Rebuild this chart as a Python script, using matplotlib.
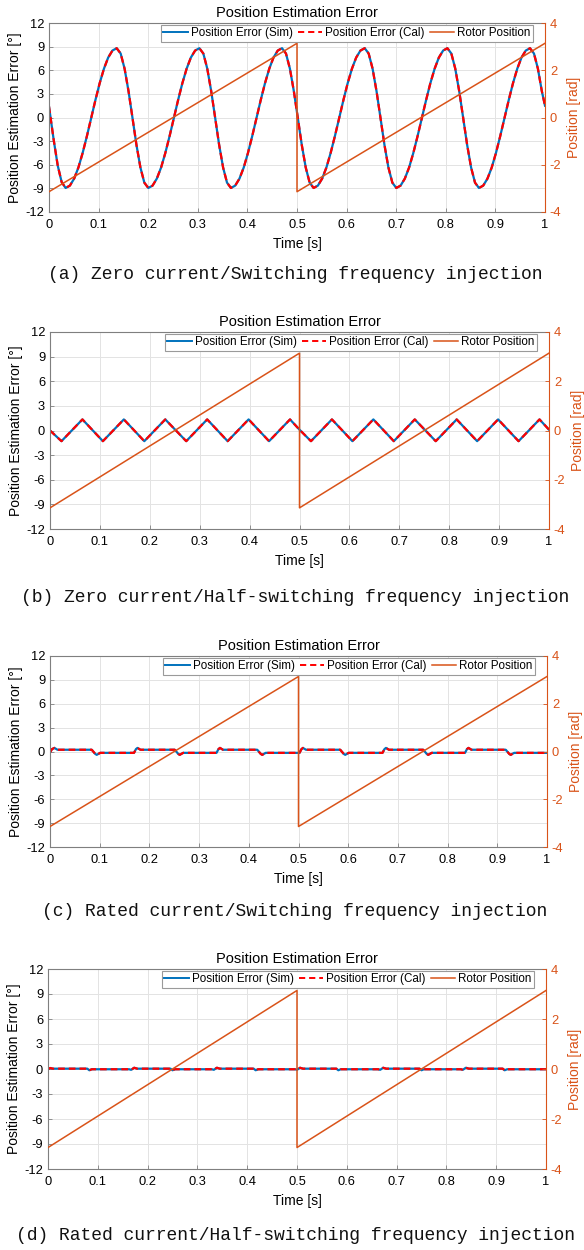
import matplotlib
matplotlib.use('Agg')
import matplotlib.pyplot as plt
from matplotlib.lines import Line2D

plt.rcParams['font.family'] = ['Liberation Sans', 'DejaVu Sans']
plt.rcParams['axes.unicode_minus'] = False

# ---------------- data ----------------
time_ticks = [0, 0.1, 0.2, 0.3, 0.4, 0.5, 0.6, 0.7, 0.8, 0.9, 1.0]
time_tick_labels = ['0', '0.1', '0.2', '0.3', '0.4', '0.5', '0.6', '0.7', '0.8', '0.9', '1']
err_ticks = [-12, -9, -6, -3, 0, 3, 6, 9, 12]
pos_ticks = [-4, -2, 0, 2, 4]

legend_labels = ['Position Error (Sim)', 'Position Error (Cal)', 'Rotor Position']
captions = ['(a) Zero current/Switching frequency injection',
            '(b) Zero current/Half-switching frequency injection',
            '(c) Rated current/Switching frequency injection',
            '(d) Rated current/Half-switching frequency injection']

rotor_t = [0.0, 0.5, 0.5, 1.0]
rotor_pos = [-3.1416, 3.1416, -3.1416, 3.1416]

# (a) zero current / switching frequency injection
t_a = [0.0, 0.0096, 0.0176, 0.0255,
       0.0335, 0.0421, 0.0507, 0.0593, 0.0678, 0.0764, 0.0850, 0.0936, 0.1022, 0.1108,
       0.1193, 0.1279, 0.1365, 0.1445, 0.1524, 0.1604, 0.1684, 0.1763, 0.1843, 0.1922,
       0.2002, 0.2088, 0.2174, 0.2260, 0.2345, 0.2431, 0.2517, 0.2603, 0.2689, 0.2775,
       0.2860, 0.2946, 0.3032, 0.3112, 0.3191, 0.3271, 0.3351, 0.3430, 0.3510, 0.3589,
       0.3668, 0.3754, 0.3840, 0.3926, 0.4011, 0.4097, 0.4183, 0.4269, 0.4355, 0.4441,
       0.4526, 0.4612, 0.4698, 0.4778, 0.4857, 0.4937, 0.5017, 0.5096, 0.5176, 0.5255,
       0.5335, 0.5421, 0.5507, 0.5593, 0.5678, 0.5764, 0.5850, 0.5936, 0.6022, 0.6108,
       0.6193, 0.6279, 0.6365, 0.6445, 0.6524, 0.6604, 0.6684, 0.6763, 0.6843, 0.6922,
       0.7002, 0.7088, 0.7174, 0.7260, 0.7345, 0.7431, 0.7517, 0.7603, 0.7689, 0.7775,
       0.7860, 0.7946, 0.8032, 0.8112, 0.8191, 0.8271, 0.8351, 0.8430, 0.8510, 0.8589,
       0.8668, 0.8754, 0.8840, 0.8926, 0.9011, 0.9097, 0.9183, 0.9269, 0.9355, 0.9441,
       0.9526, 0.9612, 0.9698, 0.9778, 0.9857, 0.9937, 1.0]
err_a_sim = [1.40, -2.90, -6.10, -8.20,
             -8.95, -8.65, -7.76, -6.35, -4.51, -2.37, -0.08, 2.22, 4.36, 6.20,
             7.61, 8.50, 8.80, 8.12, 6.20, 3.32, -0.08, -3.47, -6.35, -8.27,
             -8.95, -8.65, -7.76, -6.35, -4.51, -2.37, -0.08, 2.22, 4.36, 6.20,
             7.61, 8.50, 8.80, 8.12, 6.20, 3.32, -0.08, -3.47, -6.35, -8.27,
             -8.95, -8.65, -7.76, -6.35, -4.51, -2.37, -0.08, 2.22, 4.36, 6.20,
             7.61, 8.50, 8.80, 8.12, 6.20, 3.32, -0.08, -3.47, -6.35, -8.27,
             -8.95, -8.65, -7.76, -6.35, -4.51, -2.37, -0.08, 2.22, 4.36, 6.20,
             7.61, 8.50, 8.80, 8.12, 6.20, 3.32, -0.08, -3.47, -6.35, -8.27,
             -8.95, -8.65, -7.76, -6.35, -4.51, -2.37, -0.08, 2.22, 4.36, 6.20,
             7.61, 8.50, 8.80, 8.12, 6.20, 3.32, -0.08, -3.47, -6.35, -8.27,
             -8.95, -8.65, -7.76, -6.35, -4.51, -2.37, -0.08, 2.22, 4.36, 6.20,
             7.61, 8.50, 8.80, 8.12, 6.20, 3.32, 1.50]
err_a_cal = err_a_sim

# (b) zero current / half-switching frequency injection
t_b = [0.0, 0.023, 0.065, 0.106, 0.148, 0.189, 0.231, 0.273, 0.315, 0.356, 0.398, 0.439, 0.481,
       0.5, 0.523, 0.565, 0.606, 0.648, 0.689, 0.731, 0.773, 0.815, 0.856, 0.898, 0.939, 0.981, 1.0]
err_b_sim = [0.0, -1.30, 1.35, -1.30, 1.35, -1.30, 1.35, -1.30, 1.35, -1.30, 1.35, -1.30, 1.35,
             0.10, -1.30, 1.35, -1.30, 1.35, -1.30, 1.35, -1.30, 1.35, -1.30, 1.35, -1.30, 1.35, 0.10]
err_b_cal = err_b_sim

# (c) rated current / switching frequency injection
t_c = [0.000, 0.004, 0.009, 0.015, 0.084, 0.091, 0.094, 0.101,
       0.169, 0.173, 0.176, 0.182, 0.251, 0.258, 0.261, 0.268,
       0.335, 0.339, 0.342, 0.348, 0.417, 0.424, 0.427, 0.434,
       0.502, 0.506, 0.509, 0.515, 0.584, 0.591, 0.594, 0.601,
       0.669, 0.673, 0.676, 0.682, 0.751, 0.758, 0.761, 0.768,
       0.835, 0.839, 0.842, 0.848, 0.917, 0.924, 0.927, 0.934, 1.000]
err_c_sim = [-0.12, 0.30, 0.45, 0.22, 0.22, -0.30, -0.42, -0.17,
             -0.17, 0.30, 0.45, 0.22, 0.22, -0.30, -0.42, -0.17,
             -0.17, 0.30, 0.45, 0.22, 0.22, -0.30, -0.42, -0.17,
             -0.17, 0.30, 0.45, 0.22, 0.22, -0.30, -0.42, -0.17,
             -0.17, 0.30, 0.45, 0.22, 0.22, -0.30, -0.42, -0.17,
             -0.17, 0.30, 0.45, 0.22, 0.22, -0.30, -0.42, -0.17, -0.17]
err_c_cal = err_c_sim

# (d) rated current / half-switching frequency injection
t_d = [0.0, 0.004, 0.010, 0.079, 0.083, 0.088, 0.163, 0.167, 0.173, 0.179,
       0.246, 0.250, 0.255, 0.329, 0.333, 0.339, 0.345, 0.413, 0.417, 0.422,
       0.496, 0.500, 0.506, 0.512, 0.579, 0.583, 0.588, 0.663, 0.667, 0.673, 0.679,
       0.746, 0.750, 0.755, 0.829, 0.833, 0.839, 0.845, 0.913, 0.917, 0.922, 1.0]
err_d_sim = [-0.05, 0.12, 0.04, 0.04, -0.15, -0.03, -0.03, -0.10, 0.15, 0.04,
             0.04, -0.15, -0.03, -0.03, -0.10, 0.15, 0.04, 0.04, -0.15, -0.03,
             -0.03, -0.10, 0.15, 0.04, 0.04, -0.15, -0.03, -0.03, -0.10, 0.15, 0.04,
             0.04, -0.15, -0.03, -0.03, -0.10, 0.15, 0.04, 0.04, -0.15, -0.03, -0.03]
err_d_cal = err_d_sim

panels = [(t_a, err_a_sim, err_a_cal), (t_b, err_b_sim, err_b_cal),
          (t_c, err_c_sim, err_c_cal), (t_d, err_d_sim, err_d_cal)]

# ---------------- layout / style ----------------
W, H = 584, 1250
rects = [(49, 23, 545, 212), (50, 332, 549, 529), (50, 656, 547, 847), (48, 969, 546, 1169)]
caption_y = [274, 597, 912, 1235]

BLUE = '#0072BD'
RED = '#FF0000'
ORANGE = '#D95319'
SPINE = '#7f7f7f'
GRID = '#e3e3e3'

fig = plt.figure(figsize=(W / 100, H / 100), dpi=100)

for (l, t, r, b), (tt, es, ec), cap, cy in zip(rects, panels, captions, caption_y):
    ax = fig.add_axes([l / W, 1 - b / H, (r - l) / W, (b - t) / H])
    ax.set_xlim(0, 1)
    ax.set_ylim(-12, 12)
    ax.set_xticks(time_ticks)
    ax.set_xticklabels(time_tick_labels)
    ax.set_yticks(err_ticks)
    ax.grid(True, color=GRID, linewidth=0.7)
    ax.set_axisbelow(True)
    ax.plot(tt, es, color=BLUE, linewidth=1.6, solid_joinstyle='round')
    ax.plot(tt, ec, color=RED, linewidth=1.6, dashes=(3.0, 1.8))
    ax.tick_params(direction='in', length=3, width=0.6, color=SPINE, labelsize=9.3, pad=3.5)
    ax.tick_params(axis='x', pad=5)
    for s in ['left', 'bottom', 'top']:
        ax.spines[s].set_color(SPINE)
        ax.spines[s].set_linewidth(0.8)
    ax.spines['right'].set_visible(False)
    ax.set_xlabel('Time [s]', fontsize=10, labelpad=4.5)
    ax.set_ylabel('Position Estimation Error [°]', fontsize=10, labelpad=2)
    ax.set_title('Position Estimation Error', fontsize=10.5, pad=4)

    ax2 = ax.twinx()
    ax2.set_ylim(-4, 4)
    ax2.set_yticks(pos_ticks)
    ax2.plot(rotor_t, rotor_pos, color=ORANGE, linewidth=1.1)
    ax2.tick_params(axis='y', direction='in', length=3, width=0.6, colors=ORANGE, labelsize=9.3, pad=3.5)
    for s in ['left', 'bottom', 'top']:
        ax2.spines[s].set_visible(False)
    ax2.spines['right'].set_color(ORANGE)
    ax2.spines['right'].set_linewidth(0.8)
    ax2.set_ylabel('Position [rad]', fontsize=10, color=ORANGE, labelpad=4)

    handles = [Line2D([], [], color=BLUE, linewidth=1.4),
               Line2D([], [], color=RED, linewidth=1.4, dashes=(3.2, 2.0)),
               Line2D([], [], color=ORANGE, linewidth=1.1)]
    leg = ax2.legend(handles, legend_labels, loc='upper right', ncol=3,
                     bbox_to_anchor=((r - 12) / W, 1 - (t + 2) / H),
                     bbox_transform=fig.transFigure, borderaxespad=0,
                     fontsize=8.4, handlelength=2.1, handletextpad=0.25,
                     columnspacing=0.45, borderpad=0.2, fancybox=False,
                     framealpha=1, edgecolor='#9a9a9a')
    leg.get_frame().set_linewidth(0.8)

    fig.text(295 / W, 1 - cy / H, cap, ha='center', va='center',
             fontsize=13, family=['Liberation Mono', 'DejaVu Sans Mono'], color='#111111')

fig.savefig('out.png', dpi=100)
